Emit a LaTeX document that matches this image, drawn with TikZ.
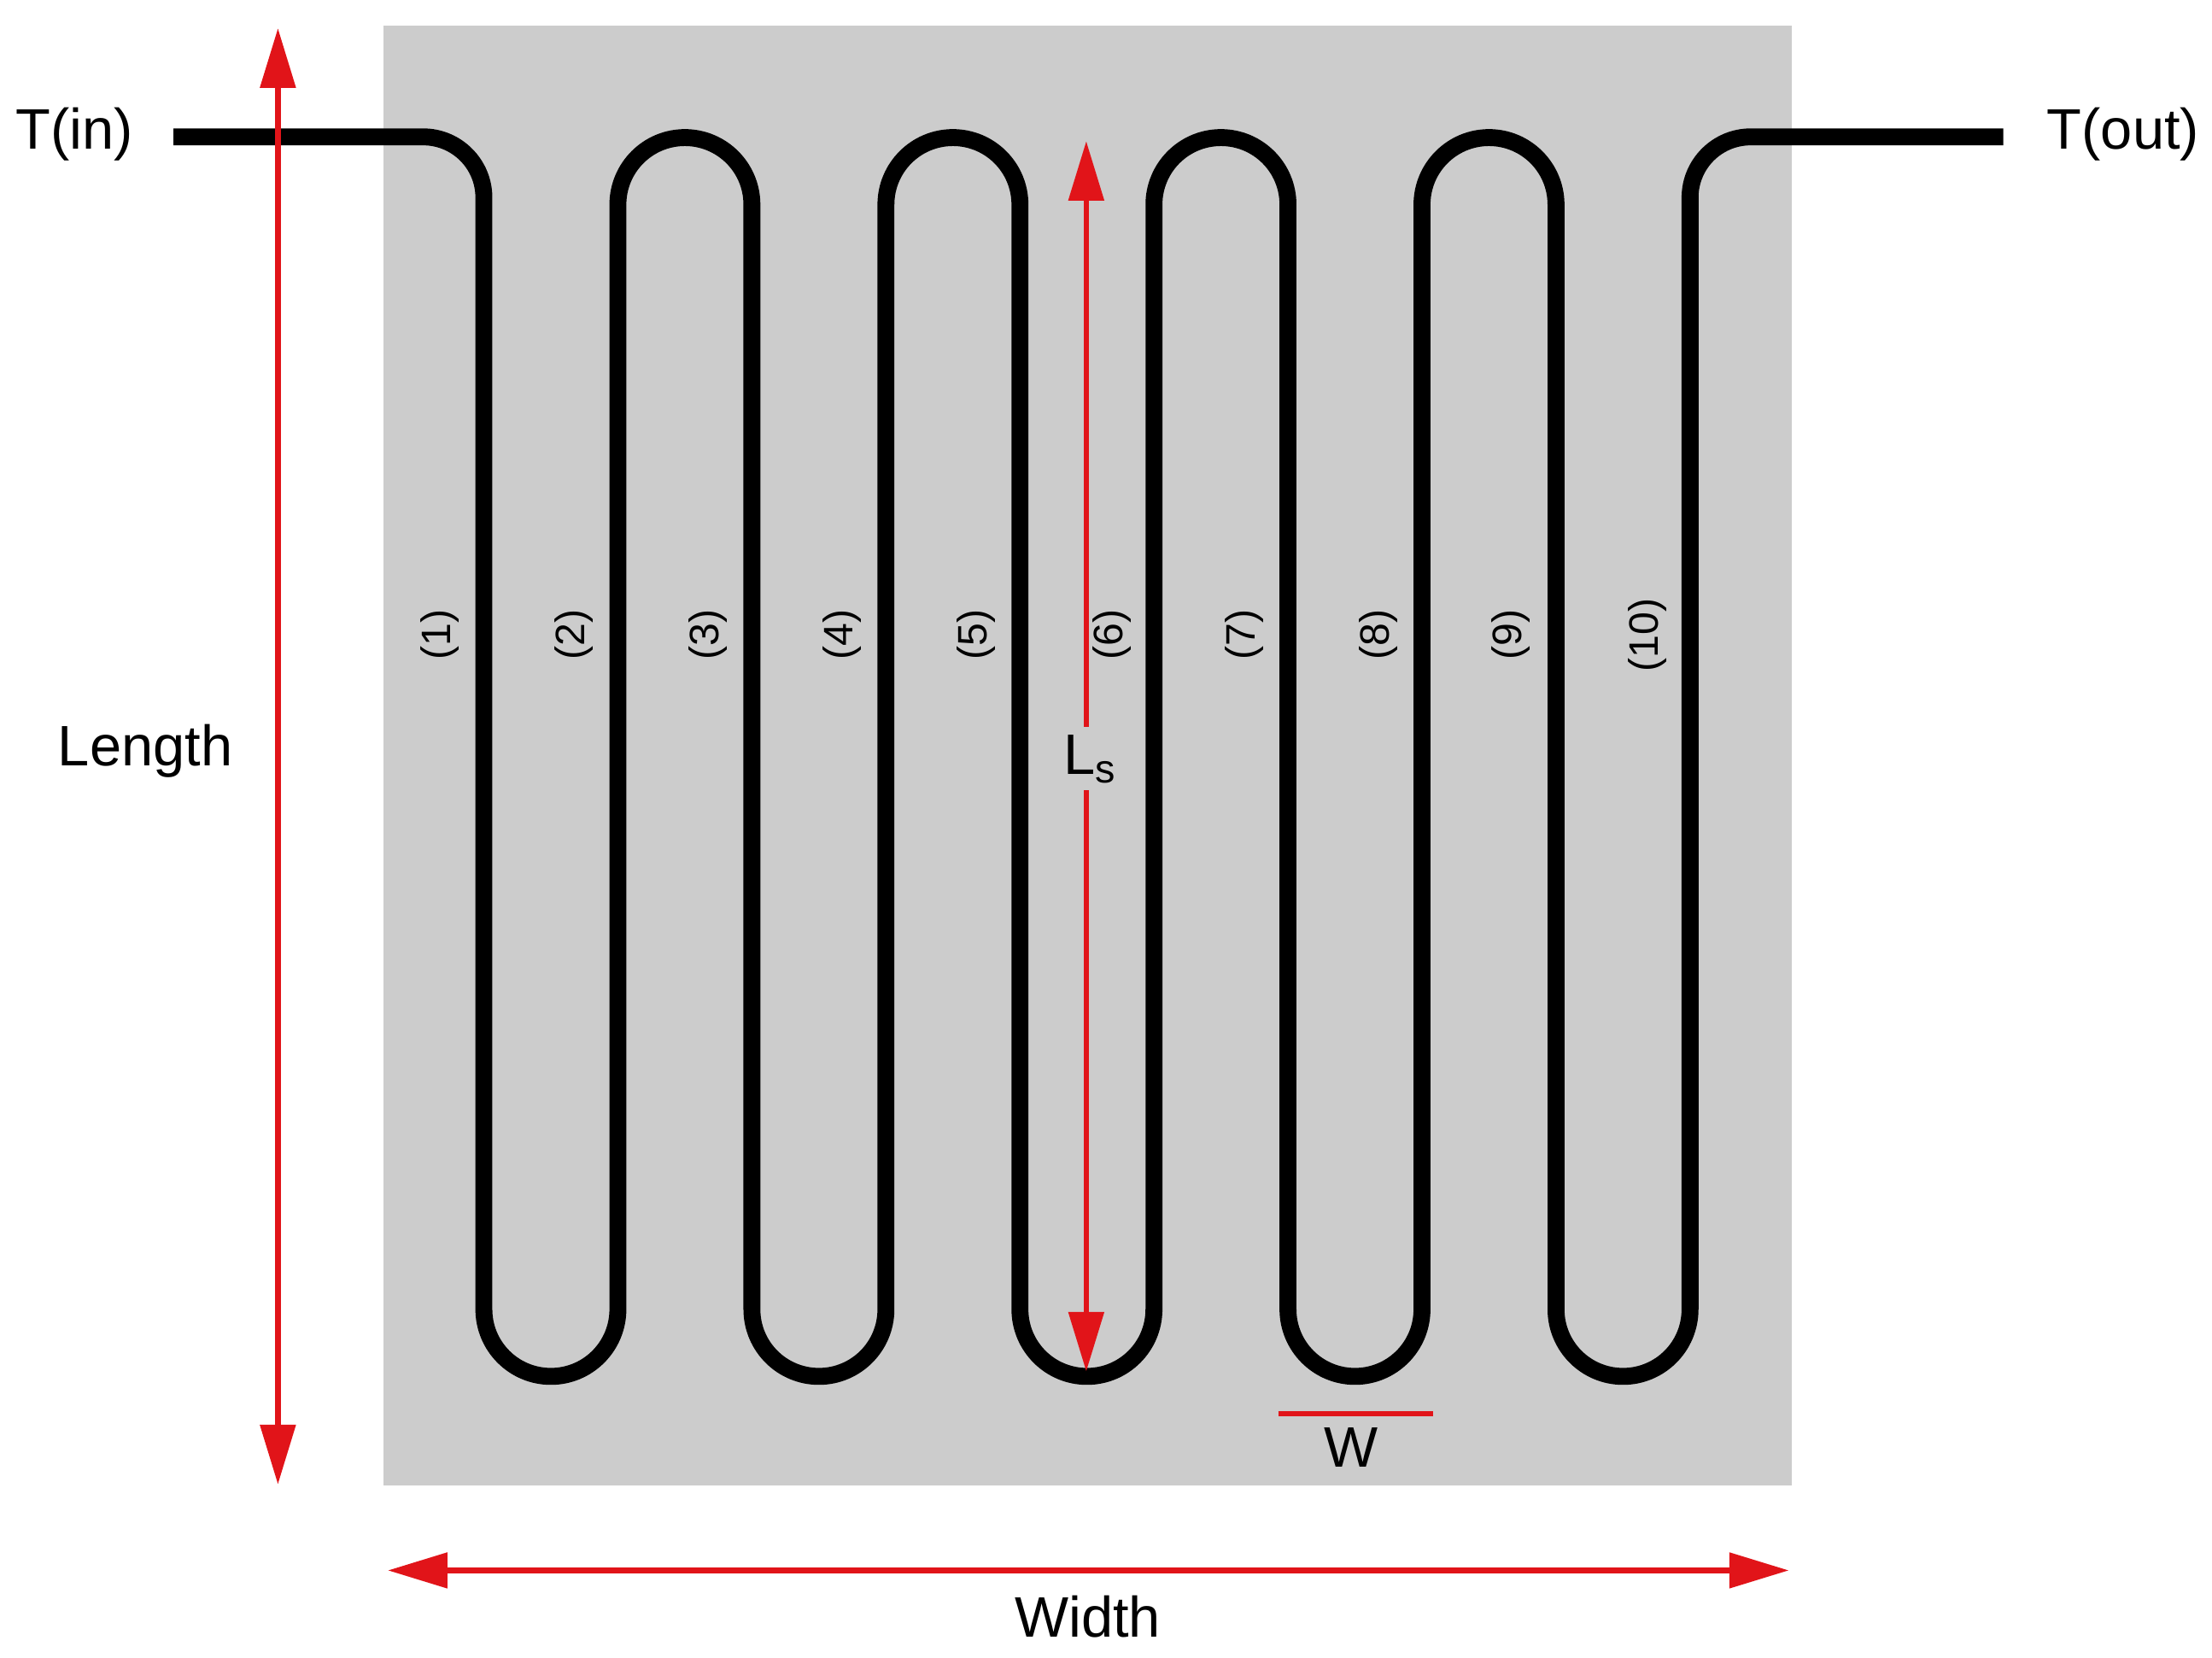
\documentclass[tikz,border=0pt]{standalone}
\usepackage{fontspec}
\setmainfont{Liberation Sans}
\usetikzlibrary{arrows.meta}
\definecolor{rd}{RGB}{225,20,25}
\tikzset{
 dim/.style={rd,line width=1.1pt,{Triangle[length=12pt,width=7pt]}-{Triangle[length=12pt,width=7pt]}},
 lab/.style={font=\fontsize{11.5}{11.5}\selectfont},
 num/.style={font=\fontsize{8.3}{8.3}\selectfont,rotate=90}}
\begin{document}
\begin{tikzpicture}[x=0.01cm,y=-0.01cm]
\useasboundingbox (0,0) rectangle (1568,1175);
\fill[white] (0,0) rectangle (1568,1175);
\fill[gray!40] (272,18) rectangle (1270,1053);
\coordinate (tin) at (123,97);
\coordinate (tout) at (1420,97);
\draw[line width=12*0.01cm,line join=round] (tin) -- (300,97) arc[start angle=270,end angle=360,radius=43] -- (343,928)
 arc[start angle=180,end angle=0,radius=47.5] -- (438,145) arc[start angle=180,end angle=360,radius=47.5]
 -- (533,928) arc[start angle=180,end angle=0,radius=47.5] -- (628,145) arc[start angle=180,end angle=360,radius=47.5]
 -- (723,928) arc[start angle=180,end angle=0,radius=47.5] -- (818,145) arc[start angle=180,end angle=360,radius=47.5]
 -- (913,928) arc[start angle=180,end angle=0,radius=47.5] -- (1008,145) arc[start angle=180,end angle=360,radius=47.5]
 -- (1103,928) arc[start angle=180,end angle=0,radius=47.5] -- (1198,140) arc[start angle=180,end angle=270,radius=43] -- (tout);
\foreach \i/\x in {1/312,2/407,3/502,4/597,5/692,6/788,7/882,8/977,9/1071,10/1168}
  \node[num] (n\i) at (\x,450) {(\i)};
\node[lab] (tinl) at (53,95) {T(in)};
\node[lab] (toutl) at (1505,95) {T(out)};
\node[lab] (len) at (103,532) {Length};
\node[lab] (wid) at (771,1146) {Width};
\node[lab,inner sep=1pt] (ls) at (773,538) {L$_{\mathrm{s}}$};
\node[lab] (wl) at (958,1026) {W};
\coordinate (lt) at (197,20); \coordinate (lb) at (197,1052);
\coordinate (wl1) at (275,1113); \coordinate (wr1) at (1268,1113);
\coordinate (st) at (770,100); \coordinate (sb) at (770,972);
\draw[dim] (lt) -- (lb);
\draw[dim] (wl1) -- (wr1);
\draw[rd,line width=1.1pt,{Triangle[length=12pt,width=7pt]}-] (st) -- (770,515);
\draw[rd,line width=1.1pt,-{Triangle[length=12pt,width=7pt]}] (770,560) -- (sb);
\draw[rd,line width=1pt] (906,1002) -- (1016,1002);
\end{tikzpicture}
\end{document}
